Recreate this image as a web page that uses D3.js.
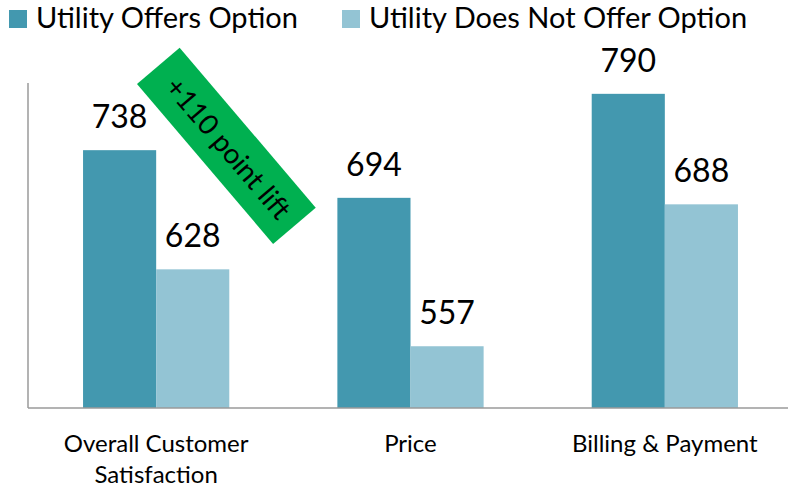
<!DOCTYPE html>
<html>
<head>
<meta charset="utf-8">
<script src="https://cdn.jsdelivr.net/npm/d3@7"></script>
<style>
  body { margin: 0; background: #fff; }
  svg text { font-family: Lato, "Open Sans", sans-serif; fill: #000; }
</style>
</head>
<body>
<script>
// chart data
const categories = ["Overall Customer Satisfaction", "Price", "Billing & Payment"];
const categoryLines = [["Overall Customer", "Satisfaction"], ["Price"], ["Billing & Payment"]];
const seriesNames = ["Utility Offers Option", "Utility Does Not Offer Option"];
const offersValues = [738, 694, 790];
const notOfferValues = [628, 557, 688];
const liftText = "+110 point lift";

window.onload = function () {
    const w = 788, h = 489;
    const colors = ["#4398AF", "#93C4D4"];

    const svg = d3.select("body").append("svg")
        .attr("width", w)
        .attr("height", h);

    const x0 = d3.scaleBand()
        .domain(categories)
        .range([29, 792])
        .paddingInner(0.425)
        .paddingOuter(0.2125);

    const x1 = d3.scaleBand()
        .domain(seriesNames)
        .range([0, x0.bandwidth()]);

    const y = d3.scaleLinear()
        .domain([500, 800])
        .range([408, 83]);

    const rows = categories.map((c, i) => ({
        cat: c,
        vals: [offersValues[i], notOfferValues[i]]
    }));

    // bars
    const groups = svg.selectAll("g.grp")
        .data(rows)
        .enter().append("g")
        .attr("class", "grp")
        .attr("transform", d => "translate(" + x0(d.cat) + ",0)");

    groups.selectAll("rect")
        .data(d => d.vals.map((v, k) => ({name: seriesNames[k], v: v, k: k})))
        .enter().append("rect")
        .attr("x", d => x1(d.name))
        .attr("y", d => y(d.v))
        .attr("width", x1.bandwidth())
        .attr("height", d => y(500) - y(d.v))
        .attr("fill", d => colors[d.k]);

    groups.selectAll("text.val")
        .data(d => d.vals.map((v, k) => ({name: seriesNames[k], v: v})))
        .enter().append("text")
        .attr("class", "val")
        .attr("x", d => x1(d.name) + x1.bandwidth() / 2)
        .attr("y", d => y(d.v) - 22)
        .attr("text-anchor", "middle")
        .attr("font-size", "32px")
        .text(d => d.v);

    // axes lines
    svg.append("line")
        .attr("x1", 28).attr("x2", 28)
        .attr("y1", y.range()[1]).attr("y2", y(500))
        .attr("stroke", "#9a9a9a").attr("stroke-width", 1.5);
    svg.append("line")
        .attr("x1", 28).attr("x2", w)
        .attr("y1", y(500)).attr("y2", y(500))
        .attr("stroke", "#9a9a9a").attr("stroke-width", 1.5);

    // category labels
    const cats = svg.selectAll("text.cat")
        .data(categories)
        .enter().append("text")
        .attr("class", "cat")
        .attr("text-anchor", "middle")
        .attr("font-size", "24px")
        .attr("y", 452);
    cats.each(function (d, i) {
        const t = d3.select(this);
        categoryLines[i].forEach((line, j) => {
            t.append("tspan")
                .attr("x", x0(d) + x0.bandwidth() / 2)
                .attr("dy", j === 0 ? 0 : 31)
                .text(line);
        });
    });

    // legend
    const legendX = [9, 342];
    const leg = svg.selectAll("g.leg")
        .data(seriesNames)
        .enter().append("g")
        .attr("class", "leg")
        .attr("transform", (d, i) => "translate(" + legendX[i] + ",10)");
    leg.append("rect")
        .attr("width", 18).attr("height", 18)
        .attr("fill", (d, i) => colors[i]);
    leg.append("text")
        .attr("x", 27).attr("y", 18)
        .attr("font-size", "29px")
        .text(d => d);

    // annotation box
    const cx = x0(categories[0]) + x0.bandwidth() * 0.98;
    const cy = y(742);
    const ann = svg.append("g")
        .attr("transform", "translate(" + cx + "," + cy + ") rotate(49.6)");
    ann.append("rect")
        .attr("x", -105).attr("y", -28)
        .attr("width", 210).attr("height", 56)
        .attr("fill", "#00B050");
    ann.append("text")
        .attr("text-anchor", "middle")
        .attr("x", 3)
        .attr("y", 10)
        .attr("font-size", "28px")
        .text(liftText);
};
</script>
</body>
</html>
